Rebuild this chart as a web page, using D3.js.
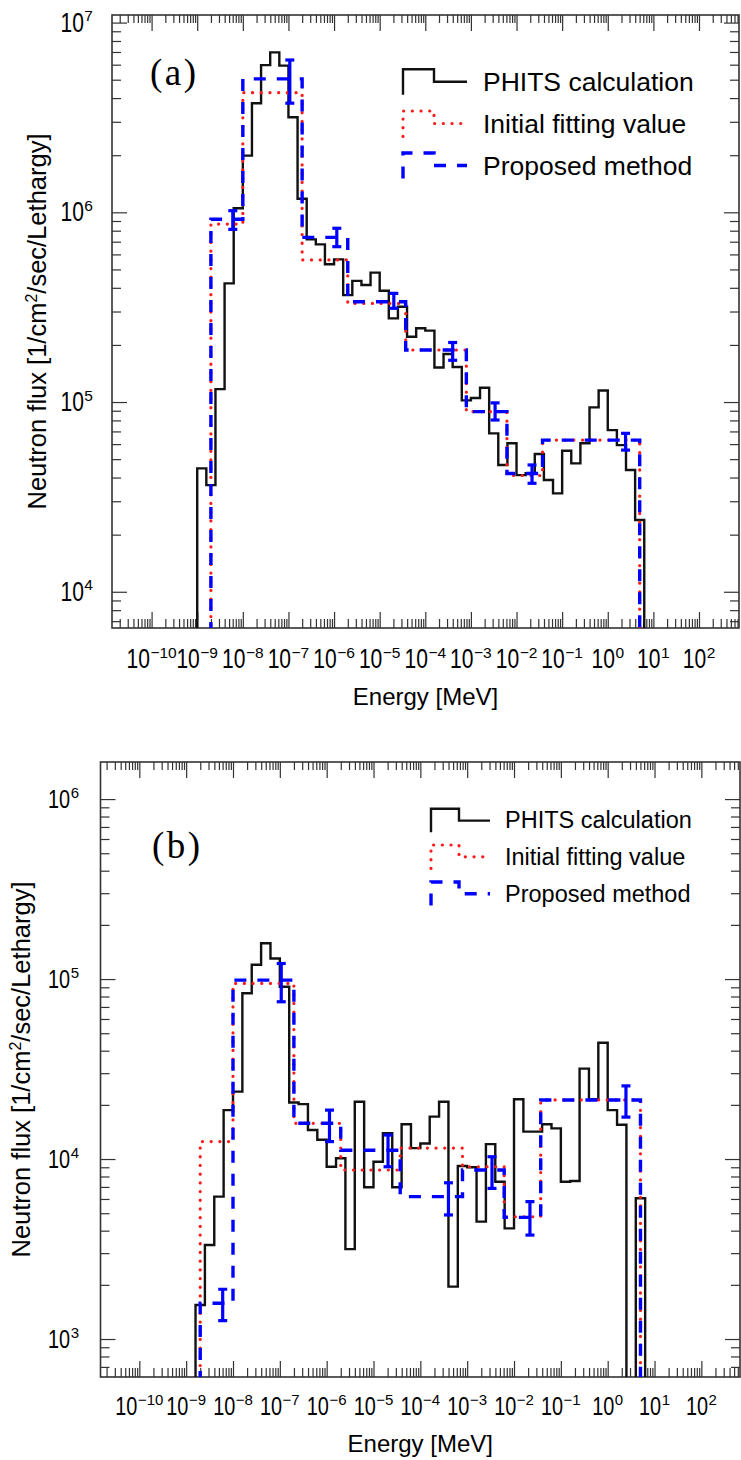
<!DOCTYPE html>
<html>
<head>
<meta charset="utf-8">
<script src="https://cdn.jsdelivr.net/npm/d3@7/dist/d3.min.js"></script>
<style>
  body { margin: 0; background: #fff; }
  svg { display: block; }
</style>
</head>
<body>
<svg id="chart" width="741" height="1460"></svg>
<script>
// PHITS histogram, bin edges in log10(E / MeV)
var phitsEdgesA = [-9.0, -8.8, -8.6, -8.4, -8.2, -8.0, -7.8, -7.6, -7.4, -7.2, -7.0, -6.8, -6.6, -6.4, -6.2,
                   -6.0, -5.8, -5.6, -5.4, -5.2, -5.0, -4.8, -4.6, -4.4, -4.2, -4.0, -3.8, -3.6, -3.4, -3.2,
                   -3.0, -2.8, -2.6, -2.4, -2.2, -2.0, -1.8, -1.6, -1.4, -1.2, -1.0, -0.8, -0.6, -0.4, -0.2,
                   0.0, 0.2, 0.4, 0.6, 0.8];
var phitsFluxA = [4.47e4, 3.65e4, 1.17e5, 4.22e5, 1.05e6, 1.99e6, 3.76e6, 5.97e6, 6.97e6, 5.93e6,
                  3.17e6, 1.18e6, 7.2e5, 6.78e5, 5.32e5, 5.65e5, 3.66e5, 4.35e5, 4.14e5, 4.81e5,
                  3.86e5, 2.76e5, 3.18e5, 2.21e5, 2.45e5, 2.38e5, 1.52e5, 1.79e5, 1.53e5, 1.02e5,
                  1.05e5, 1.19e5, 6.84e4, 4.66e4, 6.06e4, 4.12e4, 4.21e4, 5.32e4, 3.88e4, 3.30e4,
                  5.54e4, 4.75e4, 6.06e4, 9.37e4, 1.15e5, 7.11e4, 5.93e4, 4.38e4, 2.39e4];

var phitsEdgesB = [-8.8, -8.6, -8.4, -8.2, -8.0, -7.8, -7.6, -7.4, -7.2, -7.0, -6.8, -6.6, -6.4, -6.2,
                   -6.0, -5.8, -5.6, -5.4, -5.2, -5.0, -4.8, -4.6, -4.4, -4.2, -4.0, -3.8, -3.6, -3.4, -3.2,
                   -3.0, -2.8, -2.6, -2.4, -2.2, -2.0, -1.8, -1.6, -1.4, -1.2, -1.0, -0.8, -0.6, -0.4, -0.2,
                   0.0, 0.2, 0.4, 0.6, 0.8];
var phitsFluxB = [1545, 3330, 6180, 1.87e4, 2.37e4, 8.34e4, 1.20e5, 1.58e5, 1.30e5, 9.06e4,
                  2.06e4, 2.02e4, 1.45e4, 1.28e4, 9060, 1.01e4, 3160, 2.08e4, 6970, 9660,
                  1.39e4, 6970, 1.56e4, 1.15e4, 1.22e4, 1.72e4, 2.08e4, 1955, 9140, 9000,
                  4490, 1.21e4, 7480, 4120, 2.15e4, 1.42e4, 1.42e4, 1.56e4, 1.48e4, 7480,
                  7550, 3.18e4, 2.15e4, 4.43e4, 1.87e4, 1.55e4, 0, 6050];

// unfolding bins (same for both cases)
var unfoldEdges = [-8.7, -8.0, -6.7, -5.7, -4.43, -3.1, -2.21, -1.43, 0.7];
var errorBarLogE = [-8.22, -6.97, -5.94, -4.69, -3.40, -2.47, -1.66, 0.39];

var initialA = [8.67e5, 4.27e6, 5.61e5, 3.31e5, 1.88e5, 8.9e4, 4.1e4, 6.3e4];
var proposedA = [9.2e5, 5.05e6, 7.38e5, 3.38e5, 1.88e5, 8.9e4, 4.2e4, 6.3e4];
var proposedLowA = [8.13e5, 3.76e6, 6.59e5, 3.12e5, 1.66e5, 8.04e4, 3.73e4, 5.58e4];
var proposedHighA = [1.02e6, 6.35e6, 8.24e5, 3.74e5, 2.06e5, 9.9e4, 4.66e4, 6.84e4];

var initialB = [1.25e4, 9.46e4, 1.58e4, 8690, 1.15e4, 9060, 4780, 2.13e4];
var proposedB = [1580, 9.86e4, 1.58e4, 1.12e4, 6180, 8690, 4740, 2.13e4];
var proposedLowB = [1265, 7.48e4, 1.25e4, 9060, 4890, 6870, 3780, 1.71e4];
var proposedHighB = [1890, 1.22e5, 1.87e4, 1.36e4, 7380, 1.03e4, 5800, 2.55e4];

var xTickExps = [-10, -9, -8, -7, -6, -5, -4, -3, -2, -1, 0, 1, 2];
var yTickExpsA = [4, 5, 6, 7];
var yTickExpsB = [3, 4, 5, 6];
var legendLabels = ["PHITS calculation", "Initial fitting value", "Proposed method"];

var sans = "'Liberation Sans', Arial, Helvetica, sans-serif";
var svg = d3.select("#chart");

var styles = {
    phits:    {stroke: "#111", width: 2.4, dash: null, cap: "butt"},
    initial:  {stroke: "#ff1a1a", width: 3.2, dash: "0.1,8.6", cap: "round"},
    proposed: {stroke: "#0000ff", width: 3.4, dash: "12,11", cap: "butt"}
}

var panels = [
    {name: "a", label: "(a)", left: 112, right: 739, top: 15, bottom: 628,
     xLog: [-10.868, 2.877], yLog: [3.809, 7.040], yTicks: yTickExpsA,
     edges: phitsEdgesA, flux: phitsFluxA,
     initial: initialA, proposed: proposedA, low: proposedLowA, high: proposedHighA,
     labelPos: [150, 85], tickFont: 27, supFont: 15.5, xLabelY: 668, yLabelRight: 93,
     xTitleY: 705, yTitleX: 46,
     legend: {x0: 403, xs: 434, x1: 467, tx: 483, base: [90.7, 132.5, 174.5], size: 26.5, up: 21.5, down: 4, step: 9}},
    {name: "b", label: "(b)", left: 100.5, right: 740, top: 762, bottom: 1377,
     xLog: [-10.829, 2.825], yLog: [2.789, 6.206], yTicks: yTickExpsB,
     edges: phitsEdgesB, flux: phitsFluxB,
     initial: initialB, proposed: proposedB, low: proposedLowB, high: proposedHighB,
     labelPos: [152, 858], tickFont: 25.5, supFont: 15, xLabelY: 1415, yLabelRight: 79,
     xTitleY: 1452, yTitleX: 30,
     legend: {x0: 431, xs: 459, x1: 490, tx: 505, base: [828.3, 864.5, 901.5], size: 23.5, up: 19.5, down: 4, step: 7.7}}
]

function pow10(e) { return Math.pow(10, e); }

function applyStyle(sel, st) {
    sel.attr("fill", "none")
       .attr("stroke", st.stroke)
       .attr("stroke-width", st.width)
       .attr("stroke-linecap", st.cap)
       .attr("stroke-linejoin", "miter");
    if (st.dash) sel.attr("stroke-dasharray", st.dash);
    return sel;
}

// "10" with a superscript exponent, condensed base like the original figure
function powerLabel(g, cx, baseline, exp, p, anchor) {
    var lab = g.append("g");
    var base = lab.append("text")
                  .attr("font-family", sans)
                  .attr("font-size", p.tickFont)
                  .attr("transform", "scale(0.78,1)")
                  .text("10");
    var bw = base.node().getComputedTextLength() * 0.78;
    var sup = lab.append("text")
                 .attr("font-family", sans)
                 .attr("font-size", p.supFont)
                 .attr("x", bw + 0.5)
                 .attr("y", -10.5)
                 .text(exp < 0 ? "\u2212" + (-exp) : String(exp));
    var total = bw + 0.5 + sup.node().getComputedTextLength();
    var x0 = anchor === "end" ? cx - total : cx - total / 2;
    lab.attr("transform", `translate(${x0},${baseline})`);
}

function drawPanel(p) {
    var g = svg.append("g");

    var xScale = d3.scaleLog()
                   .domain([pow10(p.xLog[0]), pow10(p.xLog[1])])
                   .range([p.left, p.right]);
    var yScale = d3.scaleLog()
                   .domain([pow10(p.yLog[0]), pow10(p.yLog[1])])
                   .range([p.bottom, p.top])
                   .clamp(true);
    var yFloor = p.bottom + 6;
    function yOf(v) { return v > 0 ? yScale(v) : yFloor; }

    svg.append("clipPath").attr("id", "clip-" + p.name)
       .append("rect")
       .attr("x", p.left).attr("y", p.top)
       .attr("width", p.right - p.left).attr("height", p.bottom - p.top);

    // log ticks
    function logTicks(scale) {
        var d = scale.domain(), major = [], minor = [];
        for (var k = -12; k <= 8; k++) {
            for (var m = 1; m <= 9; m++) {
                var v = m * pow10(k);
                if (v < d[0] || v > d[1]) continue;
                (m === 1 ? major : minor).push(v);
            }
        }
        return {major: major, minor: minor};
    }
    var xt = logTicks(xScale), yt = logTicks(yScale);

    function tickAxis(axisGen, values, size, transform) {
        var ax = g.append("g")
                  .attr("transform", transform)
                  .call(axisGen.tickValues(values).tickSize(size).tickFormat(""));
        ax.select(".domain").remove();
        ax.selectAll("line").attr("stroke", "#333").attr("stroke-width", 1.2);
    }
    tickAxis(d3.axisBottom(xScale), xt.major, -16, `translate(0,${p.bottom})`);
    tickAxis(d3.axisBottom(xScale), xt.minor, -9, `translate(0,${p.bottom})`);
    tickAxis(d3.axisTop(xScale), xt.major, -16, `translate(0,${p.top})`);
    tickAxis(d3.axisTop(xScale), xt.minor, -8, `translate(0,${p.top})`);
    tickAxis(d3.axisLeft(yScale), yt.major, -15, `translate(${p.left},0)`);
    tickAxis(d3.axisLeft(yScale), yt.minor, -9, `translate(${p.left},0)`);
    tickAxis(d3.axisRight(yScale), yt.major, -15, `translate(${p.right},0)`);
    tickAxis(d3.axisRight(yScale), yt.minor, -9, `translate(${p.right},0)`);

    g.append("rect")
     .attr("x", p.left).attr("y", p.top)
     .attr("width", p.right - p.left).attr("height", p.bottom - p.top)
     .attr("fill", "none").attr("stroke", "#333").attr("stroke-width", 1.6);

    // tick labels
    xTickExps.forEach(function(k) {
        powerLabel(g, xScale(pow10(k)), p.xLabelY, k, p, "middle");
    });
    p.yTicks.forEach(function(k) {
        powerLabel(g, p.yLabelRight, yScale(pow10(k)) + 9, k, p, "end");
    });

    // step histograms
    function stepPoints(edges, values) {
        var pts = [[xScale(pow10(edges[0])), yFloor]];
        values.forEach(function(v, i) {
            pts.push([xScale(pow10(edges[i])), yOf(v)]);
            pts.push([xScale(pow10(edges[i + 1])), yOf(v)]);
        });
        pts.push([xScale(pow10(edges[edges.length - 1])), yFloor]);
        return pts;
    }
    var line = d3.line();
    var plot = g.append("g").attr("clip-path", `url(#clip-${p.name})`);

    applyStyle(plot.append("path").attr("d", line(stepPoints(p.edges, p.flux))), styles.phits);
    applyStyle(plot.append("path").attr("d", line(stepPoints(unfoldEdges, p.initial))), styles.initial);
    applyStyle(plot.append("path").attr("d", line(stepPoints(unfoldEdges, p.proposed))), styles.proposed);

    // error bars of the proposed method
    var bars = plot.selectAll(".ebar")
                   .data(errorBarLogE.map(function(e, i) { return {x: e, lo: p.low[i], hi: p.high[i]}; }))
                   .enter()
                   .append("g")
                   .attr("class", "ebar")
                   .attr("stroke", styles.proposed.stroke)
                   .attr("stroke-width", 3.2);
    bars.append("line")
        .attr("x1", d => xScale(pow10(d.x))).attr("x2", d => xScale(pow10(d.x)))
        .attr("y1", d => yScale(d.lo)).attr("y2", d => yScale(d.hi));
    bars.append("line")
        .attr("x1", d => xScale(pow10(d.x)) - 4.5).attr("x2", d => xScale(pow10(d.x)) + 4.5)
        .attr("y1", d => yScale(d.lo)).attr("y2", d => yScale(d.lo));
    bars.append("line")
        .attr("x1", d => xScale(pow10(d.x)) - 4.5).attr("x2", d => xScale(pow10(d.x)) + 4.5)
        .attr("y1", d => yScale(d.hi)).attr("y2", d => yScale(d.hi));

    // axis titles
    g.append("text")
     .attr("x", (p.left + p.right) / 2).attr("y", p.xTitleY)
     .attr("text-anchor", "middle")
     .attr("font-family", sans).attr("font-size", 24)
     .text("Energy [MeV]");

    var yt2 = g.append("text")
               .attr("transform", `translate(${p.yTitleX},${(p.top + p.bottom) / 2}) rotate(-90)`)
               .attr("text-anchor", "middle")
               .attr("font-family", sans).attr("font-size", 25.5);
    yt2.append("tspan").text("Neutron flux [1/cm");
    yt2.append("tspan").attr("dy", -9).attr("font-size", 16).text("2");
    yt2.append("tspan").attr("dy", 9).text("/sec/Lethargy]");

    // panel label
    g.append("text")
     .attr("x", p.labelPos[0]).attr("y", p.labelPos[1])
     .attr("font-family", "'Liberation Serif', 'DejaVu Serif', serif")
     .attr("font-size", 37)
     .attr("letter-spacing", 2.5)
     .text(p.label);

    // legend
    var L = p.legend;
    var legendStyles = [styles.phits, styles.initial, styles.proposed];
    legendLabels.forEach(function(name, i) {
        var b = L.base[i];
        var sample = d3.line()([[L.x0, b + L.down], [L.x0, b - L.up], [L.xs, b - L.up], [L.xs, b - L.step], [L.x1, b - L.step]]);
        applyStyle(g.append("path").attr("d", sample), legendStyles[i]);
        g.append("text")
         .attr("x", L.tx).attr("y", b)
         .attr("font-family", sans).attr("font-size", L.size)
         .text(name);
    });
}

panels.forEach(drawPanel);
</script>
</body>
</html>
